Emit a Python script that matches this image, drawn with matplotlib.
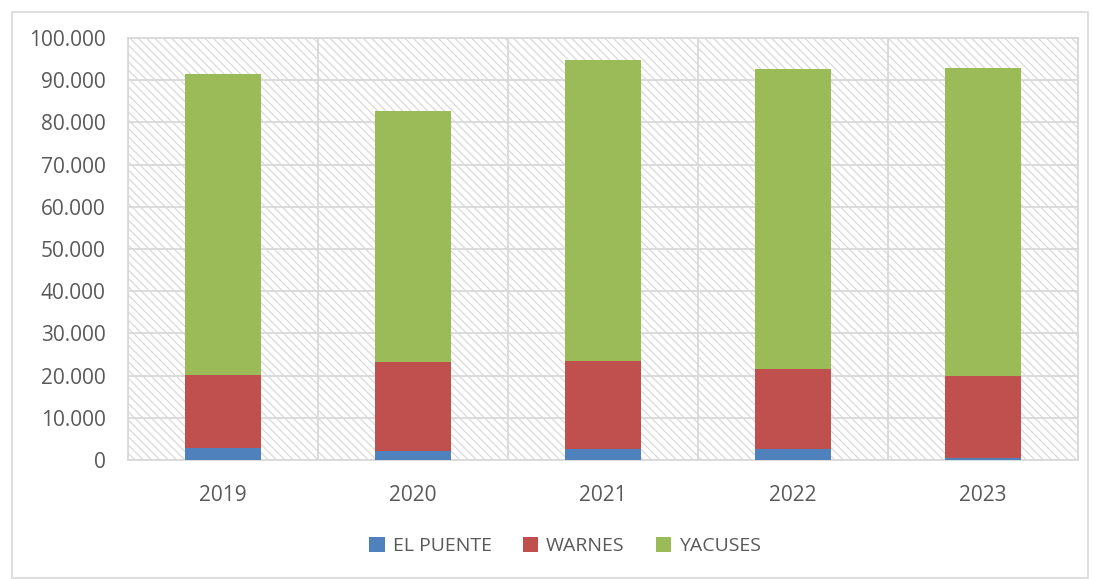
import numpy as np
import matplotlib.pyplot as plt
from matplotlib.patches import Rectangle
from matplotlib.ticker import FuncFormatter

years = ['2019', '2020', '2021', '2022', '2023']
el_puente = [2900, 2200, 2600, 2600, 400]
warnes = [17200, 21000, 20900, 19000, 19500]
yacuses = [71400, 59500, 71300, 71100, 73000]

series = ['EL PUENTE', 'WARNES', 'YACUSES']
colors = ['#4F81BD', '#C0504D', '#9BBB59']

plt.rcParams['font.family'] = ['Open Sans', 'DejaVu Sans']
plt.rcParams['hatch.linewidth'] = 0.8
plt.rcParams['hatch.color'] = '#D6D6D6'

fig = plt.figure(figsize=(10.93, 5.79), dpi=100)
ax = fig.add_axes([128 / 1093, 1 - 460 / 579, 950 / 1093, 422 / 579])

# outer chart border
fig.patches.append(Rectangle((12 / 1093, 0.002), 1076 / 1093, 1 - 12 / 579 - 0.002,
                             transform=fig.transFigure, fill=False,
                             edgecolor='#D9D9D9', linewidth=1.2))

# hatched plot area background
ax.add_patch(Rectangle((0, 0), 1, 1, transform=ax.transAxes, facecolor='white',
                       edgecolor='#D6D6D6', hatch='\\\\\\\\', linewidth=0, zorder=0))

x = np.arange(len(years))
bottom = np.zeros(len(years))
for name, vals, c in zip(series, [el_puente, warnes, yacuses], colors):
    ax.bar(x, vals, width=0.405, bottom=bottom, color=c, label=name, zorder=3)
    bottom += np.array(vals)

ax.set_xlim(-0.5, len(years) - 0.5)
ax.set_ylim(0, 100000)
ax.set_yticks(np.arange(0, 100001, 10000))
ax.yaxis.set_major_formatter(FuncFormatter(lambda v, p: f'{int(v):,}'.replace(',', '.')))
ax.set_xticks(x)
ax.set_xticklabels(years)

ax.set_xticks(np.arange(-0.5, len(years)), minor=True)
ax.grid(True, axis='y', color='#D9D9D9', linewidth=1.3, zorder=1)
ax.grid(True, axis='x', which='minor', color='#D9D9D9', linewidth=1.3, zorder=1)
ax.set_axisbelow(True)

for s in ax.spines.values():
    s.set_color('#D9D9D9')
    s.set_linewidth(1.3)
ax.tick_params(axis='both', which='both', length=0, labelsize=15, colors='#595959')
ax.tick_params(axis='x', pad=18)
ax.tick_params(axis='y', pad=16)

fig.legend(loc='center', bbox_to_anchor=(0.517, 1 - 546 / 579), ncol=3, frameon=False,
           fontsize=14, handlelength=0.8, handleheight=0.8, columnspacing=1.6,
           handletextpad=0.4, labelcolor='#595959')

plt.savefig('out.png', dpi=100)
